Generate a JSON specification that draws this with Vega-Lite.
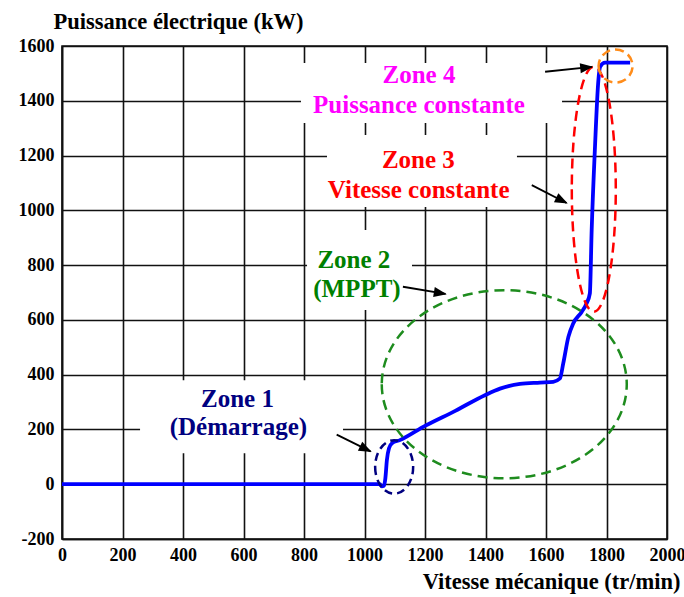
{
  "$schema": "https://vega.github.io/schema/vega-lite/v6.json",
  "width": 605,
  "height": 493,
  "autosize": {"type": "none"},
  "padding": {"left": 62, "top": 46, "right": 17, "bottom": 58},
  "background": "white",
  "view": {"stroke": "#111", "strokeWidth": 1.6},
  "config": {
    "font": "Liberation Serif",
    "axis": {
      "labelFont": "Liberation Serif",
      "labelFontWeight": "bold",
      "labelFontSize": 18,
      "labelColor": "black",
      "labelExpr": "'' + datum.value",
      "titleFont": "Liberation Serif",
      "titleFontWeight": "bold",
      "titleFontSize": 22.5,
      "titleColor": "black",
      "grid": true,
      "gridColor": "#111",
      "gridWidth": 1.6,
      "gridOpacity": 1,
      "domainColor": "#111",
      "domainWidth": 1.6,
      "ticks": false,
      "tickSize": 0
    }
  },
  "layer": [
    {
      "data": {"values": [
        {"x": 0, "y": 0}, {"x": 1051, "y": 0}, {"x": 1057, "y": -8}, {"x": 1064, "y": -6},
        {"x": 1069, "y": 22}, {"x": 1074, "y": 88}, {"x": 1081, "y": 131}, {"x": 1091, "y": 150},
        {"x": 1117, "y": 161}, {"x": 1200, "y": 213}, {"x": 1300, "y": 268}, {"x": 1398, "y": 325},
        {"x": 1448, "y": 349}, {"x": 1514, "y": 366}, {"x": 1580, "y": 371}, {"x": 1624, "y": 374},
        {"x": 1646, "y": 386}, {"x": 1657, "y": 441}, {"x": 1674, "y": 538}, {"x": 1690, "y": 587},
        {"x": 1718, "y": 629}, {"x": 1734, "y": 660}, {"x": 1745, "y": 697}, {"x": 1751, "y": 928},
        {"x": 1762, "y": 1233}, {"x": 1773, "y": 1473}, {"x": 1779, "y": 1524}, {"x": 1795, "y": 1539},
        {"x": 1878, "y": 1539}
      ]},
      "mark": {"type": "line", "color": "#0000FF", "strokeWidth": 3.8, "interpolate": "monotone"},
      "encoding": {
        "x": {"field": "x", "type": "quantitative",
          "scale": {"domain": [0, 2000], "nice": false, "zero": false},
          "axis": {"values": [0, 200, 400, 600, 800, 1000, 1200, 1400, 1600, 1800, 2000],
            "labelPadding": 21, "labelBaseline": "alphabetic", "labelFlush": false,
            "title": "Vitesse mécanique (tr/min)", "titleAlign": "right", "titleBaseline": "alphabetic",
            "titleX": 618, "titleY": 49, "titleAnchor": null}},
        "y": {"field": "y", "type": "quantitative",
          "scale": {"domain": [-200, 1600], "nice": false, "zero": false},
          "axis": {"values": [-200, 0, 200, 400, 600, 800, 1000, 1200, 1400, 1600],
            "labelPadding": 8, "labelFlush": false,
            "title": "Puissance électrique (kW)", "titleAngle": 0, "titleAlign": "left",
            "titleBaseline": "alphabetic", "titleX": -9, "titleY": -18, "titleAnchor": null}}
      }
    },
    {
      "data": {"values": [
        {"x": 790, "x2": 1653, "y": 1538, "y2": 1319},
        {"x": 876, "x2": 1504, "y": 1275, "y2": 1012},
        {"x": 810, "x2": 1157, "y": 928, "y2": 636},
        {"x": 258, "x2": 929, "y": 380, "y2": 113}
      ]},
      "mark": {"type": "rect", "fill": "white", "stroke": null},
      "encoding": {
        "x": {"field": "x", "type": "quantitative"},
        "x2": {"field": "x2"},
        "y": {"field": "y", "type": "quantitative"},
        "y2": {"field": "y2"}
      }
    },
    {
      "data": {"values": [{"x": 1098, "y": 63}]},
      "mark": {"type": "point", "shape": "M -19,0 A 19,26.7 0 1,0 19,0 A 19,26.7 0 1,0 -19,0 Z", "size": 4,
        "filled": false, "color": "#000080", "strokeWidth": 2.5, "strokeDash": [8, 5], "opacity": 1},
      "encoding": {"x": {"field": "x", "type": "quantitative"}, "y": {"field": "y", "type": "quantitative"}}
    },
    {
      "data": {"values": [{"x": 1462, "y": 365}]},
      "mark": {"type": "point", "shape": "M -122.5,0 A 122.5,94 0 1,0 122.5,0 A 122.5,94 0 1,0 -122.5,0 Z", "size": 4,
        "filled": false, "color": "#1E8C1E", "strokeWidth": 2.5, "strokeDash": [10, 6], "opacity": 1},
      "encoding": {"x": {"field": "x", "type": "quantitative"}, "y": {"field": "y", "type": "quantitative"}}
    },
    {
      "data": {"values": [{"x": 1758, "y": 1077}]},
      "mark": {"type": "point", "shape": "M -22,0 A 22,122.5 0 1,0 22,0 A 22,122.5 0 1,0 -22,0 Z", "size": 4,
        "filled": false, "color": "#FF0000", "strokeWidth": 2.5, "strokeDash": [10, 6], "opacity": 1},
      "encoding": {"x": {"field": "x", "type": "quantitative"}, "y": {"field": "y", "type": "quantitative"}}
    },
    {
      "data": {"values": [{"x": 1830, "y": 1527}]},
      "mark": {"type": "point", "shape": "M -17,0 A 17,16.5 0 1,0 17,0 A 17,16.5 0 1,0 -17,0 Z", "size": 4,
        "filled": false, "color": "#FF8C1A", "strokeWidth": 2.5, "strokeDash": [9, 5], "opacity": 1},
      "encoding": {"x": {"field": "x", "type": "quantitative"}, "y": {"field": "y", "type": "quantitative"}}
    },
    {
      "data": {"values": [
        {"x": 908, "y": 181, "x2": 1020, "y2": 120},
        {"x": 1127, "y": 721, "x2": 1268, "y2": 695},
        {"x": 1553, "y": 1092, "x2": 1668, "y2": 1027},
        {"x": 1597, "y": 1506, "x2": 1752, "y2": 1524}
      ]},
      "mark": {"type": "rule", "color": "black", "strokeWidth": 1.8},
      "encoding": {
        "x": {"field": "x", "type": "quantitative"},
        "y": {"field": "y", "type": "quantitative"},
        "x2": {"field": "x2"},
        "y2": {"field": "y2"}
      }
    },
    {
      "data": {"values": [{"x": 1024, "y": 118}]},
      "mark": {"type": "point", "shape": "M 0,0 L -13,-5 L -13,5 Z", "size": 4, "filled": true, "color": "black", "opacity": 1, "angle": 26},
      "encoding": {"x": {"field": "x", "type": "quantitative"}, "y": {"field": "y", "type": "quantitative"}}
    },
    {
      "data": {"values": [{"x": 1272, "y": 694}]},
      "mark": {"type": "point", "shape": "M 0,0 L -13,-5 L -13,5 Z", "size": 4, "filled": true, "color": "black", "opacity": 1, "angle": 9.5},
      "encoding": {"x": {"field": "x", "type": "quantitative"}, "y": {"field": "y", "type": "quantitative"}}
    },
    {
      "data": {"values": [{"x": 1672, "y": 1025}]},
      "mark": {"type": "point", "shape": "M 0,0 L -13,-5 L -13,5 Z", "size": 4, "filled": true, "color": "black", "opacity": 1, "angle": 26.6},
      "encoding": {"x": {"field": "x", "type": "quantitative"}, "y": {"field": "y", "type": "quantitative"}}
    },
    {
      "data": {"values": [{"x": 1756, "y": 1524}]},
      "mark": {"type": "point", "shape": "M 0,0 L -13,-5 L -13,5 Z", "size": 4, "filled": true, "color": "black", "opacity": 1, "angle": -6},
      "encoding": {"x": {"field": "x", "type": "quantitative"}, "y": {"field": "y", "type": "quantitative"}}
    },
    {
      "data": {"values": [
        {"x": 1180, "y": 1464, "label": "Zone 4", "zone": "4"},
        {"x": 1180, "y": 1354, "label": "Puissance constante", "zone": "4"},
        {"x": 1178, "y": 1153, "label": "Zone 3", "zone": "3"},
        {"x": 1179, "y": 1044, "label": "Vitesse constante", "zone": "3"},
        {"x": 965, "y": 788, "label": "Zone 2", "zone": "2"},
        {"x": 975, "y": 683, "label": "(MPPT)", "zone": "2"},
        {"x": 580, "y": 282, "label": "Zone 1", "zone": "1"},
        {"x": 583, "y": 179, "label": "(Démarrage)", "zone": "1"}
      ]},
      "mark": {"type": "text", "font": "Liberation Serif", "fontWeight": "bold", "fontSize": 25, "align": "center", "baseline": "alphabetic"},
      "encoding": {
        "x": {"field": "x", "type": "quantitative"},
        "y": {"field": "y", "type": "quantitative"},
        "text": {"field": "label"},
        "color": {"field": "zone", "type": "nominal", "legend": null,
          "scale": {"domain": ["1", "2", "3", "4"], "range": ["#000080", "#008000", "#FF0000", "#FF00FF"]}}
      }
    }
  ]
}
